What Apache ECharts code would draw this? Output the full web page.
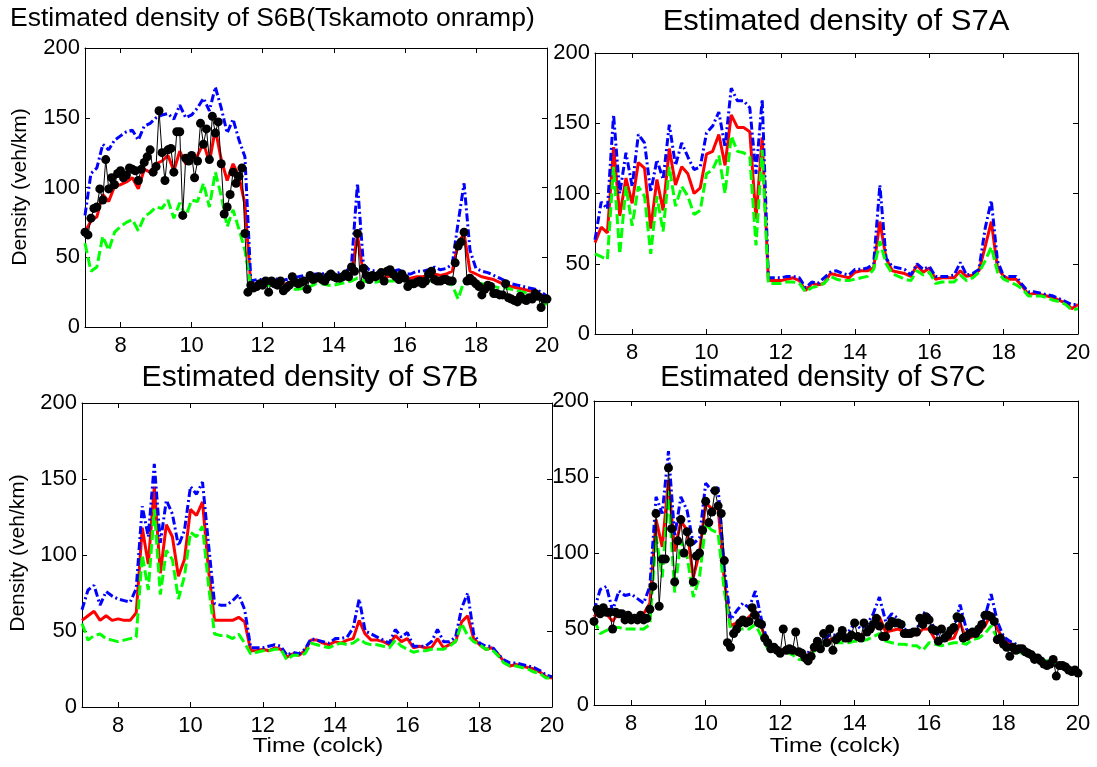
<!DOCTYPE html>
<html>
<head>
<meta charset="utf-8">
<script src="https://cdn.jsdelivr.net/npm/echarts@6/dist/echarts.min.js"></script>
<style>
html,body{margin:0;padding:0;background:#fff;}
#chart{width:1097px;height:767px;}
</style>
</head>
<body>
<div id="chart"></div>
<script>
// ---- data ----
const startHour = 7;
const lineStepMin = 10;   // estimated curves: one value every 10 minutes from 7:00 to 20:00
const measStepMin = 5;    // measurements: one value every 5 minutes
const xTicks = [8, 10, 12, 14, 16, 18, 20];
const yTicks = [0, 50, 100, 150, 200];

const titles = ["Estimated density of S6B(Tskamoto onramp)", "Estimated density of S7A", "Estimated density of S7B", "Estimated density of S7C"];
const yName = "Density (veh/km)";
const xName = "Time (colck)";

// S6B
const s6bUpper = [80,110,114,131,127,134,137,140,141,134, 144,146,150,152,153,149,159,150,152,157, 164,155,172,157,139,149,134,122,33,34, 34,34,35,33,34,35,36,37,37,38, 38,39,38,39,39,45,103,45,41,40, 39,39,40,41,38,38,40,40,41,43, 41,42,45,75,103,55,42,40,39,37, 35,33,31,30,29,28,27,25,22];
const s6bEst = [68,76,79,95,90,101,102,104,107,99, 113,111,117,119,123,112,126,117,120,123, 132,118,142,120,105,117,108,88,30,31, 30,31,31,30,31,32,33,34,34,35, 35,36,35,36,36,38,66,38,37,37, 36,36,37,37,35,35,36,36,37,38, 37,38,40,60,67,40,38,36,35,34, 32,30,29,28,27,26,25,23,21];
const s6bLower = [60,40,43,65,55,68,72,75,77,69, 79,82,86,85,91,78,89,79,91,90, 103,86,111,94,72,84,70,55,29,30, 30,30,30,29,28,27,27,28,29,31, 31,30,30,31,32,33,35,33,32,32, 33,33,33,34,33,32,33,33,33,33, 33,32,30,20,33,34,32,31,30,29, 28,28,27,26,25,24,23,19,16];
const s6bMeas = [68,66,78,85,86,99,91,120,99,107, 102,110,112,107,109,114,113,112,105,113, 118,122,127,111,115,155,125,105,127,128, 111,140,140,80,121,119,123,107,119,146, 131,142,120,151,139,147,117,81,86,95, 111,103,108,114,67,25,30,28,29,31, 30,33,25,33,31,30,33,26,28,30, 36,32,31,32,33,27,37,34,35,36, 34,33,36,38,36,35,35,36,38,36, 43,40,67,30,42,37,34,37,36,37, 39,33,40,41,38,36,34,38,35,29, 31,31,32,33,31,33,38,40,34,33, 33,34,34,33,33,46,58,61,68,33, 35,33,31,29,23,27,30,29,24,24, 23,23,31,21,20,19,18,22,20,19, 21,20,24,22,14,20,20];

// S7A
const s7aUpper = [67,94,89,156,100,129,105,142,136,101, 124,110,149,120,136,126,117,119,143,148, 158,133,175,166,166,161,114,167,40,40, 40,41,41,40,33,37,36,40,44,45, 43,42,46,46,47,50,106,54,48,47, 46,42,50,46,48,41,41,41,42,51, 42,43,46,75,95,52,41,41,41,35, 30,30,29,28,27,25,23,21,21];
const s7aEst = [65,76,72,133,84,111,93,122,118,75, 110,88,132,106,119,114,100,104,128,130, 142,120,156,147,147,144,82,140,38,38, 38,39,40,38,31,36,35,36,43,42, 41,40,44,45,45,47,80,54,45,44, 43,41,49,44,47,39,40,40,40,45, 41,42,45,62,80,47,41,39,39,34, 28,29,28,27,26,24,22,18,21];
const s7aLower = [57,55,53,119,57,105,77,105,98,57, 98,73,119,91,105,98,85,88,114,117, 127,100,141,130,129,126,63,131,36,36, 36,37,37,36,30,33,34,36,41,39, 38,38,39,40,41,46,66,50,43,41, 39,38,45,42,44,36,37,37,37,42, 38,40,44,52,62,44,39,37,35,32, 27,27,27,26,24,23,21,17,18];

// S7B
const s7bUpper = [64,77,80,67,76,73,71,70,69,78, 132,112,160,108,136,127,106,116,145,140, 148,107,68,67,67,70,74,64,39,39, 39,40,41,40,34,36,35,38,45,44, 43,42,45,45,46,52,71,50,48,46, 44,42,51,46,49,40,40,40,43,51, 43,43,46,65,75,48,42,40,40,35, 31,29,29,28,27,26,24,21,20];
const s7bEst = [57,60,63,57,60,57,58,57,57,62, 118,94,145,88,120,112,86,97,130,126, 135,90,57,57,57,57,59,56,37,37, 38,37,39,38,33,35,34,37,44,44, 42,41,43,42,44,45,57,48,44,44, 43,41,47,43,45,39,40,39,39,45, 39,41,43,56,60,45,41,38,39,35, 30,27,28,27,26,25,23,20,19];
const s7bLower = [55,44,47,48,45,44,43,44,45,46, 100,77,130,74,103,97,71,86,115,112, 119,80,48,47,47,45,48,42,35,36, 37,37,38,38,31,34,34,35,42,41, 40,39,41,42,41,42,45,42,41,41, 40,39,44,40,38,36,37,37,38,38, 38,40,43,55,47,43,41,38,38,34, 29,27,27,26,25,23,22,19,19];

// S7C
const s7cUpper = [62,76,78,62,75,72,73,70,67,78, 137,126,167,111,137,128,106,110,146,141, 143,90,56,62,67,64,75,56,41,37, 36,38,36,34,32,37,40,43,46,46, 47,48,54,50,53,60,71,55,60,57, 50,49,49,61,59,48,45,47,51,66, 50,47,48,58,73,55,45,42,40,37, 34,33,31,29,28,26,24,23,22];
const s7cEst = [58,62,60,55,61,59,58,56,60,67, 122,104,148,101,121,115,84,100,133,129, 130,82,52,54,54,58,62,51,40,37, 36,37,35,33,31,35,38,40,43,44, 44,45,45,46,47,50,58,48,49,50, 48,47,46,50,50,43,42,43,44,54, 43,45,47,52,60,50,43,41,38,36, 33,32,30,28,27,25,23,22,21];
const s7cLower = [56,47,49,51,51,50,50,50,50,53, 111,84,141,74,108,98,71,84,119,115, 113,75,50,50,50,50,53,45,37,36, 34,35,33,30,30,34,37,40,42,41, 41,41,42,42,43,45,47,42,41,40, 40,39,39,36,41,40,39,40,41,41, 40,43,44,47,52,44,41,38,36,34, 32,31,30,29,28,26,24,22,21];
const s7cMeas = [55,63,60,64,61,61,50,61,60,60, 56,59,56,57,56,59,56,57,63,78, 126,65,96,96,156,116,81,108,122,100, 114,107,81,98,100,115,134,120,127,141, 131,126,95,41,38,47,50,54,56,54, 55,64,59,54,53,44,41,37,38,36, 34,50,36,37,36,48,35,34,31,29, 32,38,42,37,47,41,50,36,43,45, 49,44,44,46,54,45,44,54,48,50, 53,57,52,45,45,52,55,54,54,53, 47,47,47,48,48,57,53,58,56,50, 49,42,50,44,46,49,51,58,57,44, 45,47,48,47,50,53,59,59,58,55, 43,44,40,38,32,38,36,37,37,35, 34,33,30,31,29,27,26,27,30,19, 26,26,25,23,22,23,21];

// ---- chart ----
function toPairs(vals, stepMin) {
  return vals.map((v, i) => [startHour + i * stepMin / 60, v]);
}

const FONT = '"Liberation Sans", Arial, sans-serif';
const panels = [
  { grid: { left: 85, top: 48, width: 462, height: 279 }, upper: s6bUpper, est: s6bEst, lower: s6bLower, meas: s6bMeas },
  { grid: { left: 595, top: 53, width: 483, height: 281 }, upper: s7aUpper, est: s7aEst, lower: s7aLower, meas: null },
  { grid: { left: 82, top: 403, width: 470, height: 304 }, upper: s7bUpper, est: s7bEst, lower: s7bLower, meas: null },
  { grid: { left: 594, top: 401, width: 484, height: 304 }, upper: s7cUpper, est: s7cEst, lower: s7cLower, meas: s7cMeas }
];

const grid = [], xAxis = [], yAxis = [], series = [];
const axisLineStyle = { show: true, onZero: false, lineStyle: { color: '#000', width: 1 } };
panels.forEach((p, g) => {
  grid.push(Object.assign({ containLabel: false, show: false }, p.grid));
  xAxis.push({ type: 'value', gridIndex: g, min: 7, max: 20, position: 'bottom',
    axisLine: axisLineStyle, splitLine: { show: false },
    axisTick: { inside: true, length: 5, customValues: xTicks, lineStyle: { color: '#000' } },
    axisLabel: { customValues: xTicks, color: '#000', fontSize: 22, fontFamily: FONT, margin: 8 } });
  xAxis.push({ type: 'value', gridIndex: g, min: 7, max: 20, position: 'top',
    axisLine: axisLineStyle, splitLine: { show: false },
    axisTick: { inside: true, length: 5, customValues: xTicks, lineStyle: { color: '#000' } },
    axisLabel: { show: false } });
  yAxis.push({ type: 'value', gridIndex: g, min: 0, max: 200, position: 'left',
    axisLine: axisLineStyle, splitLine: { show: false },
    axisTick: { inside: true, length: 5, customValues: yTicks, lineStyle: { color: '#000' } },
    axisLabel: { customValues: yTicks, color: '#000', fontSize: 22, fontFamily: FONT, margin: 5 } });
  yAxis.push({ type: 'value', gridIndex: g, min: 0, max: 200, position: 'right',
    axisLine: axisLineStyle, splitLine: { show: false },
    axisTick: { inside: true, length: 5, customValues: yTicks, lineStyle: { color: '#000' } },
    axisLabel: { show: false } });

  const xi = g * 2, yi = g * 2;
  series.push({ type: 'line', xAxisIndex: xi, yAxisIndex: yi, data: toPairs(p.est, lineStepMin),
    showSymbol: false, symbol: 'none', lineStyle: { color: '#ff0000', width: 3 }, z: 2 });
  series.push({ type: 'line', xAxisIndex: xi, yAxisIndex: yi, data: toPairs(p.upper, lineStepMin),
    showSymbol: false, symbol: 'none', lineStyle: { color: '#0000ff', width: 3, type: [8, 3, 2, 3] }, z: 3 });
  series.push({ type: 'line', xAxisIndex: xi, yAxisIndex: yi, data: toPairs(p.lower, lineStepMin),
    showSymbol: false, symbol: 'none', lineStyle: { color: '#00ff00', width: 3, type: [10, 4] }, z: 4 });
  if (p.meas) {
    series.push({ type: 'line', xAxisIndex: xi, yAxisIndex: yi, data: toPairs(p.meas, measStepMin),
      symbol: 'circle', symbolSize: 9, showSymbol: true,
      itemStyle: { color: '#000' }, lineStyle: { color: '#000', width: 1 }, z: 5 });
  }
});

const textStyle = (size) => ({ fill: '#000', font: size + 'px ' + FONT });
const graphic = [
  { type: 'text', x: 10, y: 19, scaleX: 1.02, style: Object.assign({ text: titles[0], align: 'left', verticalAlign: 'middle' }, textStyle(26)) },
  { type: 'text', x: 836, y: 22, scaleX: 1.07, style: Object.assign({ text: titles[1], align: 'center', verticalAlign: 'middle' }, textStyle(29)) },
  { type: 'text', x: 310, y: 378, scaleX: 1.04, style: Object.assign({ text: titles[2], align: 'center', verticalAlign: 'middle' }, textStyle(29)) },
  { type: 'text', x: 823, y: 378, scaleX: 1.0, style: Object.assign({ text: titles[3], align: 'center', verticalAlign: 'middle' }, textStyle(29)) },
  { type: 'text', x: 20, y: 187, rotation: Math.PI / 2, style: Object.assign({ text: yName, align: 'center', verticalAlign: 'middle' }, textStyle(21)) },
  { type: 'text', x: 18, y: 553, rotation: Math.PI / 2, style: Object.assign({ text: yName, align: 'center', verticalAlign: 'middle' }, textStyle(21)) },
  { type: 'text', x: 318, y: 746, scaleX: 1.15, style: Object.assign({ text: xName, align: 'center', verticalAlign: 'middle' }, textStyle(21)) },
  { type: 'text', x: 835, y: 746, scaleX: 1.15, style: Object.assign({ text: xName, align: 'center', verticalAlign: 'middle' }, textStyle(21)) }
];

const chart = echarts.init(document.getElementById('chart'), null, { renderer: 'canvas' });
chart.setOption({
  backgroundColor: '#fff',
  animation: false,
  grid, xAxis, yAxis, series, graphic
});
</script>
</body>
</html>
